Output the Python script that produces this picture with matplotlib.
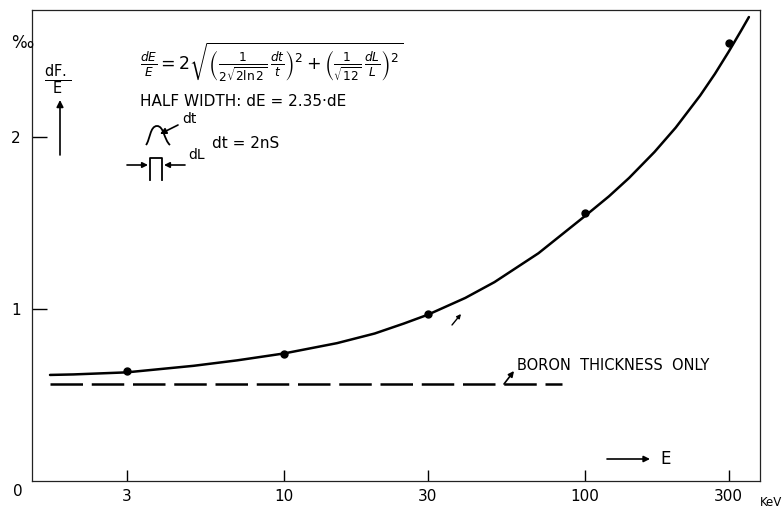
import matplotlib
matplotlib.use("Agg")
import matplotlib.pyplot as plt
from matplotlib.patches import FancyArrowPatch, PathPatch
from matplotlib.path import Path

# measured points (keV, per mille)
energy = [3, 10, 30, 100, 300]
resolution = [0.64, 0.74, 0.97, 1.56, 2.55]

# hand-drawn curve
curve_e = [1.67, 2, 3, 5, 7, 10, 15, 20, 25, 30, 40, 50, 70, 100,
           120, 140, 170, 200, 241, 270, 300, 330, 350]
curve_r = [0.617, 0.620, 0.632, 0.670, 0.702, 0.742, 0.802, 0.858, 0.916, 0.967,
           1.065, 1.157, 1.325, 1.542, 1.656, 1.763, 1.914, 2.056, 2.242, 2.369,
           2.498, 2.621, 2.699]

# boron thickness only (dashed)
boron_e = [1.67, 84]
boron_r = [0.565, 0.565]

xticks = [3, 10, 30, 100, 300]
xlabels = ["3", "10", "30", "100", "300"]
yticks = [1, 2]
ylabels = ["1", "2"]

W, H = 783, 514
fig = plt.figure(figsize=(W / 100, H / 100), dpi=100)
ax = fig.add_axes([32 / W, 1 - 481 / H, (760 - 32) / W, (481 - 10) / H])
ax.set_xscale("log")
ax.set_xlim(1.455, 381)
ax.set_ylim(0, 2.74)

ax.plot(curve_e, curve_r, color="black", lw=1.8, solid_capstyle="round",
        solid_joinstyle="round")
ax.plot(energy, resolution, "o", color="black", ms=5)
ax.plot(boron_e, boron_r, color="black", lw=1.8, dashes=(13, 3.5))

for s in ax.spines.values():
    s.set_linewidth(0.9)
    s.set_color("#222222")

ax.set_xticks(xticks)
ax.set_xticklabels(xlabels)
ax.xaxis.set_minor_locator(matplotlib.ticker.NullLocator())
ax.set_yticks(yticks)
ax.set_yticklabels(ylabels)
ax.tick_params(axis="x", direction="in", length=8, width=1, labelsize=11, pad=6)
ax.tick_params(axis="y", direction="in", length=11, width=1, labelsize=11, pad=8)


def px(x, y):
    return (x / W, 1 - y / H)


def ftext(x, y, s, **kw):
    fig.text(*px(x, y), s, **kw)


def farrow(x1, y1, x2, y2, ms=10, lw=1.2):
    fig.add_artist(FancyArrowPatch(px(x1, y1), px(x2, y2), transform=fig.transFigure,
                                   arrowstyle="-|>", mutation_scale=ms, lw=lw,
                                   color="black", shrinkA=0, shrinkB=0))


def fline(xs, ys, lw=1.3):
    fig.add_artist(plt.Line2D([x / W for x in xs], [1 - y / H for y in ys],
                              transform=fig.transFigure, color="black", lw=lw))


# axis labels and corner marks
ftext(18, 492, "0", fontsize=11, ha="center", va="center")
ftext(782, 502, "KeV", fontsize=8.5, ha="right", va="center")
ftext(22, 43, "‰", fontsize=12, ha="center", va="center")
ftext(58, 80, r"$\frac{\mathsf{dF.}}{\mathsf{E}}$", fontsize=15, ha="center", va="center")
farrow(60, 155, 60, 100)
farrow(607, 459, 650, 459, ms=9)
ftext(660, 459, "E", fontsize=12, ha="left", va="center")

# formula block
ftext(140, 62, r"$\frac{dE}{E} = 2\sqrt{\left(\frac{1}{2\sqrt{2\ln2}}\,\frac{dt}{t}\right)^2"
      r"+\left(\frac{1}{\sqrt{12}}\,\frac{dL}{L}\right)^2}$",
      fontsize=12.5, ha="left", va="center")
ftext(140, 101, "HALF WIDTH: dE = 2.35·dE", fontsize=11, ha="left", va="center")

# gaussian pulse sketch
verts = [px(146, 145), px(150, 140), px(150, 126), px(157, 126),
         px(164, 126), px(164, 140), px(170, 145)]
codes = [Path.MOVETO, Path.CURVE4, Path.CURVE4, Path.CURVE4,
         Path.CURVE4, Path.CURVE4, Path.CURVE4]
fig.add_artist(PathPatch(Path(verts, codes), transform=fig.transFigure,
                         fill=False, lw=1.3, color="black"))
farrow(178, 125, 160, 134, ms=9)
ftext(182, 119, "dt", fontsize=10, ha="left", va="center")
ftext(212, 143, "dt = 2nS", fontsize=11, ha="left", va="center")

# rectangular pulse sketch
fline([150, 150, 162, 162], [180, 158, 158, 180])
farrow(127, 165, 148, 165, ms=8)
farrow(185, 165, 164, 165, ms=8)
ftext(188, 155, "dL", fontsize=10, ha="left", va="center")

# boron label
ftext(517, 365, "BORON  THICKNESS  ONLY", fontsize=10.5, ha="left", va="center")
farrow(504, 384, 514, 371, ms=8)
farrow(452, 325, 461, 314, ms=6, lw=1)

fig.savefig("out.png", dpi=100)
